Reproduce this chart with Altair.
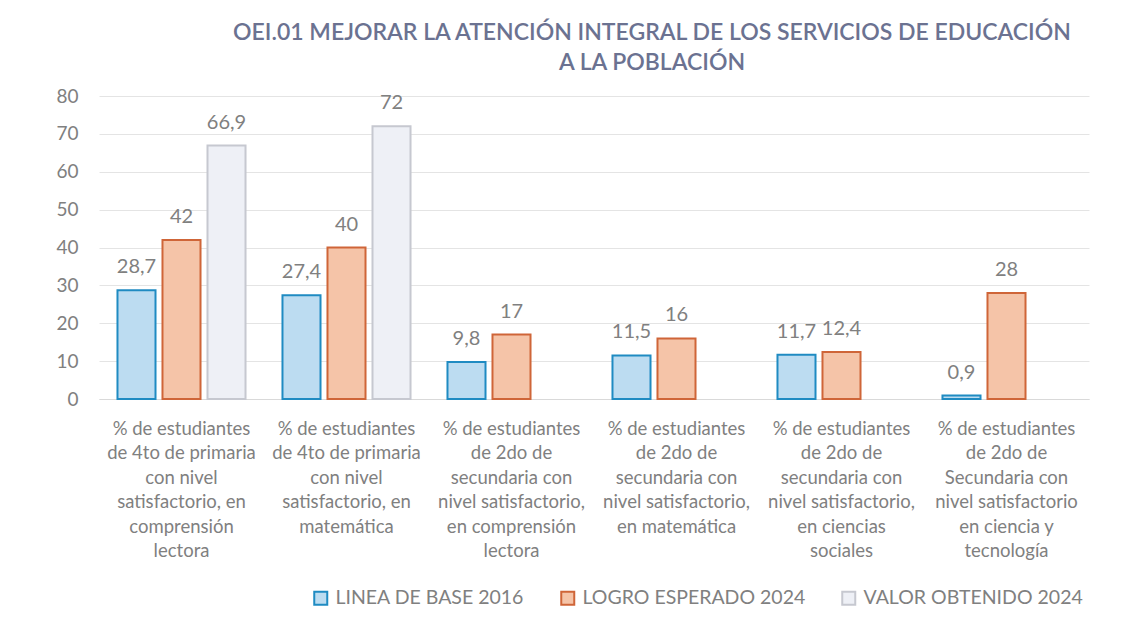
import altair as alt
import pandas as pd

categories = [
    "% de estudiantes\nde 4to de primaria\ncon nivel\nsatisfactorio, en\ncomprensión\nlectora",
    "% de estudiantes\nde 4to de primaria\ncon nivel\nsatisfactorio, en\nmatemática",
    "% de estudiantes\nde 2do de\nsecundaria con\nnivel satisfactorio,\nen comprensión\nlectora",
    "% de estudiantes\nde 2do de\nsecundaria con\nnivel satisfactorio,\nen matemática",
    "% de estudiantes\nde 2do de\nsecundaria con\nnivel satisfactorio,\nen ciencias\nsociales",
    "% de estudiantes\nde 2do de\nSecundaria con\nnivel satisfactorio\nen ciencia y\ntecnología",
]
series = ["LINEA DE BASE 2016", "LOGRO ESPERADO 2024", "VALOR OBTENIDO 2024"]
linea_base = [28.7, 27.4, 9.8, 11.5, 11.7, 0.9]
logro_esperado = [42, 40, 17, 16, 12.4, 28]
valor_obtenido = [66.9, 72, None, None, None, None]

fills = ["#bcdcf1", "#f5c4a8", "#eef0f6"]
strokes = ["#1f8bc2", "#cf6538", "#c6c8d0"]

rows = []
for vals, s in zip([linea_base, logro_esperado, valor_obtenido], series):
    for c, v in zip(categories, vals):
        if v is not None:
            rows.append({"cat": c, "serie": s, "valor": v})
df = pd.DataFrame(rows)

FONT = "Lato"
GRAY = "#808080"

base = alt.Chart(df).encode(
    x=alt.X("cat:N", sort=categories, title=None,
            scale=alt.Scale(paddingInner=0.224, paddingOuter=0.112),
            axis=alt.Axis(labelAngle=0, labelExpr="split(datum.label, '\\n')",
                          labelFont=FONT, labelFontSize=18.5, labelColor=GRAY,
                          labelLineHeight=24.5, labelPadding=20, labelBaseline="top",
                          ticks=False, grid=False, domainColor="#d9d9d9", labelLimit=300)),
    xOffset=alt.XOffset("serie:N", sort=series,
                        scale=alt.Scale(domain=series, paddingInner=0.155, paddingOuter=0)),
    y=alt.Y("valor:Q", title=None,
            scale=alt.Scale(domain=[0, 80]),
            axis=alt.Axis(values=list(range(0, 81, 10)), labelFont=FONT, labelFontSize=19,
                          labelColor=GRAY, labelPadding=21, domain=False, ticks=False,
                          gridColor="#e4e4e4")),
)

bars = base.mark_bar(strokeWidth=2).encode(
    fill=alt.Fill("serie:N", sort=series, title=None,
                  scale=alt.Scale(domain=series, range=fills),
                  legend=alt.Legend(orient="none", direction="horizontal",
                                    legendX=212, legendY=492,
                                    symbolType="square", symbolSize=169,
                                    symbolStrokeWidth=2, labelFont=FONT,
                                    labelFontSize=19.5, labelColor=GRAY,
                                    columnPadding=32, labelOffset=5, labelLimit=400)),
    stroke=alt.Stroke("serie:N", sort=series, title=None,
                      scale=alt.Scale(domain=series, range=strokes)),
)

labels = base.transform_calculate(
    lbl="replace(toString(datum.valor), '.', ',')"
).mark_text(baseline="bottom", dy=-13, font=FONT, fontSize=20, color=GRAY).encode(
    text="lbl:N"
)

chart = (bars + labels).properties(
    width=990, height=303,
    padding={"left": 91, "top": 88, "right": 24, "bottom": 210},
    autosize=alt.AutoSizeParams(type="none"),
    view=alt.ViewBackground(strokeOpacity=0, strokeWidth=0),
    title=alt.Title(
        text=["OEI.01 MEJORAR LA ATENCIÓN INTEGRAL DE LOS SERVICIOS DE EDUCACIÓN",
              "A LA POBLACIÓN"],
        anchor="middle", dx=58, fontSize=23, font=FONT, fontWeight=600,
        color="#6b7291", lineHeight=30, offset=12,
    ),
).configure_view(stroke="transparent", strokeWidth=0, strokeOpacity=0).configure(background="white")

chart.save("out.html", embed_options={"renderer": "svg", "actions": False})
